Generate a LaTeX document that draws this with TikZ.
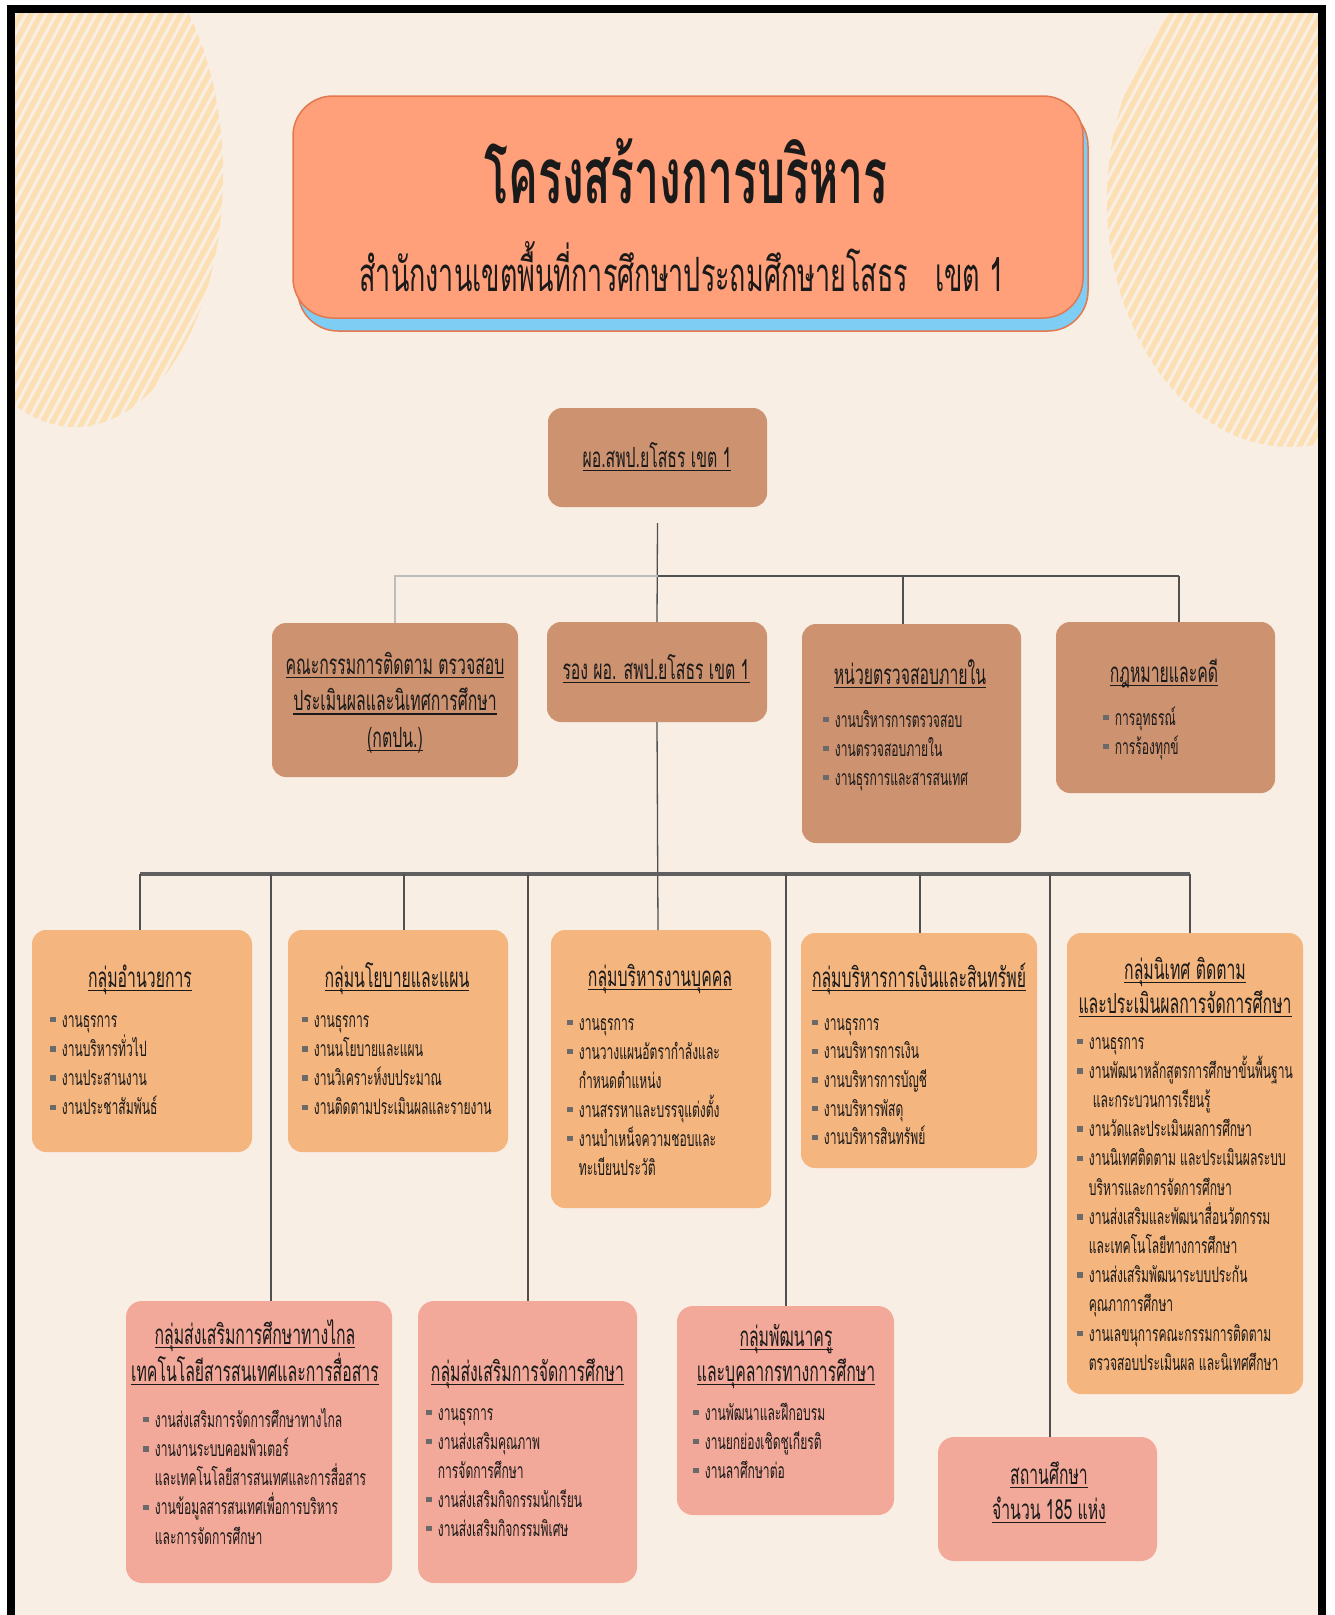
\documentclass[tikz,border=0pt]{standalone}
\usepackage{fontspec}
\setmainfont{Loma}[Script=Thai,FakeStretch=0.57]
\definecolor{bgc}{HTML}{F8EEE4}
\definecolor{stripec}{HTML}{FCE0B4}
\definecolor{titlefill}{HTML}{FFA07A}
\definecolor{titleedge}{HTML}{E2784E}
\definecolor{shadowblue}{HTML}{7ECDF4}
\definecolor{brownc}{HTML}{CD9270}
\definecolor{orangec}{HTML}{F4B57E}
\definecolor{pinkc}{HTML}{F2A999}
\definecolor{linegray}{HTML}{505050}
\definecolor{lightline}{HTML}{BDBDBD}
\definecolor{busc}{HTML}{606060}
\definecolor{ink}{HTML}{1A1A1A}
\definecolor{bulgray}{HTML}{6A6A6A}
\newcommand\fitem{\fontsize{21.2}{29}\selectfont}
\newcommand\fhead{\fontsize{27.7}{34}\selectfont}
\newcommand\fbig{\fontsize{78}{84}\selectfont\bfseries}
\newcommand\fsub{\fontsize{47.3}{54}\selectfont}
\newcommand\ul[1]{\setbox0=\hbox{#1}\leavevmode\rlap{\rule[-0.15em]{\wd0}{0.055em}}\box0}
\newcommand\bul{\textcolor{bulgray}{\rule[0.22em]{0.26em}{0.26em}}\hspace{0.3em}}
\newcommand\ind{\hphantom{\bul}}
\newcommand\linesL[2]{\vtop{\baselineskip=#1\lineskiplimit=-1000pt\lineskip=0pt\halign{##\hfil\cr#2\crcr}}}
\newcommand\linesC[2]{\vtop{\baselineskip=#1\lineskiplimit=-1000pt\lineskip=0pt\halign{\hfil##\hfil\cr#2\crcr}}}
\begin{document}
\begin{tikzpicture}[x=1pt,y=-1pt,
  every node/.style={inner sep=0pt,outer sep=0pt,text=ink},
  brownbox/.style={fill=brownc,rounded corners=14},
  orangebox/.style={fill=orangec,rounded corners=14},
  pinkbox/.style={fill=pinkc,rounded corners=16},
  titlebox/.style={fill=titlefill,draw=titleedge,line width=1.5,rounded corners=40},
  shadowbox/.style={fill=shadowblue,draw=titleedge,line width=1.5,rounded corners=40},
  head/.style={anchor=base,font=\fhead},
  items/.style={anchor=base west,font=\fitem},
  conn/.style={draw=linegray,line width=1.3},
  connb/.style={draw=linegray,line width=2},
  connlight/.style={draw=lightline,line width=1.6},
  busline/.style={draw=busc,line width=3.5},
  stripeline/.style={draw=stripec,line width=5.4}]
\useasboundingbox (0,0) rectangle (1335,1615);
\fill[white] (0,0) rectangle (1335,1615);
\fill[bgc] (11,9) rectangle (1322,1615);
% decorative striped ovals
\begin{scope}
\clip (15,13) rectangle (1318,1615);
\clip (75,175) ellipse [x radius=148, y radius=252];
\foreach \k in {0,...,65} \draw[stripeline] ({-400+\k*10},520) -- ++(300,-560);
\end{scope}
\begin{scope}
\clip (15,13) rectangle (1318,1615);
\clip (1290,200) ellipse [x radius=183, y radius=247];
\foreach \k in {0,...,60} \draw[stripeline] ({750+\k*10},520) -- ++(300,-560);
\end{scope}
\draw[line width=8] (11,1625) -- (11,9) -- (1322,9) -- (1322,1625);
% title
\node[shadowbox,minimum width=790,minimum height=225] (tshadow) at (693,218.5) {};
\node[titlebox,minimum width=790,minimum height=222] (title) at (688,207) {};
\node[anchor=base,font=\fbig] (ttext) at (686,203) {โครงสร้างการบริหาร};
\node[anchor=base,font=\fsub] (tsub) at (682,291) {สำนักงานเขตพื้นที่การศึกษาประถมศึกษายโสธร\ \ \ เขต 1};
% boxes
\node[brownbox,minimum width=219,minimum height=99] (top) at (657.5,457.5) {};
\node[brownbox,minimum width=246,minimum height=154] (g1) at (395,700) {};
\node[brownbox,minimum width=220,minimum height=100] (g2) at (657,672) {};
\node[brownbox,minimum width=219,minimum height=219] (g3) at (911.5,733.5) {};
\node[brownbox,minimum width=219,minimum height=171] (g4) at (1165.5,707.5) {};
\node[orangebox,minimum width=220,minimum height=222] (r1) at (142,1041) {};
\node[orangebox,minimum width=220,minimum height=222] (r2) at (398,1041) {};
\node[orangebox,minimum width=220,minimum height=278] (r3) at (661,1069) {};
\node[orangebox,minimum width=236,minimum height=235] (r4) at (919,1050.5) {};
\node[orangebox,minimum width=236,minimum height=461] (r5) at (1185,1163.5) {};
\node[pinkbox,minimum width=266,minimum height=282] (b1) at (259,1442) {};
\node[pinkbox,minimum width=219,minimum height=282] (b2) at (527.5,1442) {};
\node[pinkbox,minimum width=217,minimum height=209] (b3) at (785.5,1410.5) {};
\node[pinkbox,minimum width=219,minimum height=124] (b4) at (1047.5,1499) {};
% connectors
\coordinate (jtop) at (658,576);
\coordinate (j3) at (903,576);
\coordinate (j4) at (1179,576);
\draw[conn] ([yshift=-16pt]top.south) -- (g2.north);
\draw[connlight] (jtop) -| (g1.north);
\draw[connb] (jtop) -- (j4);
\draw[conn] (j3) -- (j3 |- g3.north);
\draw[conn] (j4) -- (j4 |- g4.north);
\coordinate (d1) at (140,874);
\coordinate (d2) at (404,874);
\coordinate (d3) at (658,874);
\coordinate (d4) at (920,874);
\coordinate (d5) at (1190,874);
\coordinate (l1) at (271,874);
\coordinate (l2) at (528,874);
\coordinate (l3) at (786,874);
\coordinate (l4) at (1050,874);
\draw[conn] (g2.south) -- (d3 |- r3.north);
\draw[busline] (d1) -- (d5);
\draw[conn] (d1) -- (d1 |- r1.north);
\draw[conn] (d2) -- (d2 |- r2.north);
\draw[conn] (d4) -- (d4 |- r4.north);
\draw[conn] (d5) -- (d5 |- r5.north);
\draw[conn] (l1) -- (l1 |- b1.north);
\draw[conn] (l2) -- (l2 |- b2.north);
\draw[conn] (l3) -- (l3 |- b3.north);
\draw[conn] (l4) -- (l4 |- b4.north);
% texts
\node[head] (topt) at (657,467) {\ul{ผอ.สพป.ยโสธร เขต 1}};
\node[head] (g1t) at (395,674) {\linesC{36.5pt}{\ul{คณะกรรมการติดตาม ตรวจสอบ}\cr \ul{ประเมินผลและนิเทศการศึกษา}\cr \ul{(กตปน.)}\cr}};
\node[head] (g2t) at (656,679) {\ul{รอง ผอ. สพป.ยโสธร เขต 1}};
\node[head] (g3t) at (910,684) {\ul{หน่วยตรวจสอบภายใน}};
\node[items] (g3l) at (823,727) {\linesL{29pt}{\bul งานบริหารการตรวจสอบ\cr \bul งานตรวจสอบภายใน\cr \bul งานธุรการและสารสนเทศ\cr}};
\node[head] (g4t) at (1164,682) {\ul{กฎหมายและคดี}};
\node[items] (g4l) at (1103,725) {\linesL{29pt}{\bul การอุทธรณ์\cr \bul การร้องทุกข์\cr}};
\node[head] (r1t) at (140,987) {\ul{กลุ่มอำนวยการ}};
\node[items] (r1l) at (50,1027) {\linesL{29.3pt}{\bul งานธุรการ\cr \bul งานบริหารทั่วไป\cr \bul งานประสานงาน\cr \bul งานประชาสัมพันธ์\cr}};
\node[head] (r2t) at (397,987) {\ul{กลุ่มนโยบายและแผน}};
\node[items] (r2l) at (302,1027) {\linesL{29.3pt}{\bul งานธุรการ\cr \bul งานนโยบายและแผน\cr \bul งานวิเคราะห์งบประมาณ\cr \bul งานติดตามประเมินผลและรายงาน\cr}};
\node[head] (r3t) at (660,986) {\ul{กลุ่มบริหารงานบุคคล}};
\node[items] (r3l) at (567,1030) {\linesL{29pt}{\bul งานธุรการ\cr \bul งานวางแผนอัตรากำลังและ\cr \ind กำหนดตำแหน่ง\cr \bul งานสรรหาและบรรจุแต่งตั้ง\cr \bul งานบำเหน็จความชอบและ\cr \ind ทะเบียนประวัติ\cr}};
\node[head] (r4t) at (919,987) {\ul{กลุ่มบริหารการเงินและสินทรัพย์}};
\node[items] (r4l) at (812,1030) {\linesL{28.7pt}{\bul งานธุรการ\cr \bul งานบริหารการเงิน\cr \bul งานบริหารการบัญชี\cr \bul งานบริหารพัสดุ\cr \bul งานบริหารสินทรัพย์\cr}};
\node[head] (r5t) at (1185,979) {\linesC{34pt}{\ul{กลุ่มนิเทศ ติดตาม}\cr \ul{และประเมินผลการจัดการศึกษา}\cr}};
\node[items] (r5l) at (1077,1049) {\linesL{29.2pt}{\bul งานธุรการ\cr \bul งานพัฒนาหลักสูตรการศึกษาขั้นพื้นฐาน\cr \ind\ และกระบวนการเรียนรู้\cr \bul งานวัดและประเมินผลการศึกษา\cr \bul งานนิเทศติดตาม และประเมินผลระบบ\cr \ind บริหารและการจัดการศึกษา\cr \bul งานส่งเสริมและพัฒนาสื่อนวัตกรรม\cr \ind และเทคโนโลยีทางการศึกษา\cr \bul งานส่งเสริมพัฒนาระบบประกัน\cr \ind คุณภาการศึกษา\cr \bul งานเลขนุการคณะกรรมการติดตาม\cr \ind ตรวจสอบประเมินผล และนิเทศศึกษา\cr}};
\node[head] (b1t) at (255,1344) {\linesC{37pt}{\ul{กลุ่มส่งเสริมการศึกษาทางไกล}\cr \ul{เทคโนโลยีสารสนเทศและการสื่อสาร}\cr}};
\node[items] (b1l) at (143,1427) {\linesL{29.25pt}{\bul งานส่งเสริมการจัดการศึกษาทางไกล\cr \bul งานงานระบบคอมพิวเตอร์\cr \ind และเทคโนโลยีสารสนเทศและการสื่อสาร\cr \bul งานข้อมูลสารสนเทศเพื่อการบริหาร\cr \ind และการจัดการศึกษา\cr}};
\node[head] (b2t) at (527.5,1381) {\ul{กลุ่มส่งเสริมการจัดการศึกษา}};
\node[items] (b2l) at (426,1420) {\linesL{29pt}{\bul งานธุรการ\cr \bul งานส่งเสริมคุณภาพ\cr \ind การจัดการศึกษา\cr \bul งานส่งเสริมกิจกรรมนักเรียน\cr \bul งานส่งเสริมกิจกรรมพิเศษ\cr}};
\node[head] (b3t) at (786,1346) {\linesC{35pt}{\ul{กลุ่มพัฒนาครู}\cr \ul{และบุคลากรทางการศึกษา}\cr}};
\node[items] (b3l) at (693,1420) {\linesL{29pt}{\bul งานพัฒนาและฝึกอบรม\cr \bul งานยกย่องเชิดชูเกียรติ\cr \bul งานลาศึกษาต่อ\cr}};
\node[head] (b4t) at (1049,1484) {\linesC{35pt}{\ul{สถานศึกษา}\cr \ul{จำนวน 185 แห่ง}\cr}};
\end{tikzpicture}
\end{document}
